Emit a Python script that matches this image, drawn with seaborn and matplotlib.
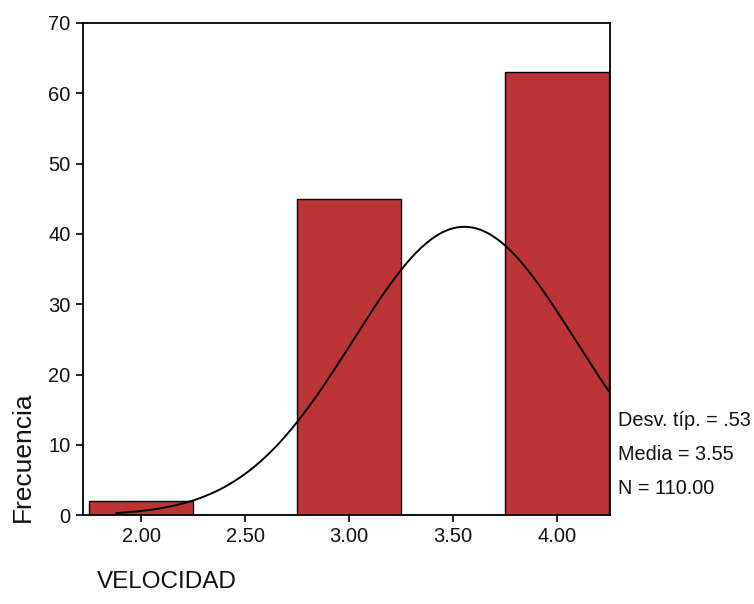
import numpy as np
import pandas as pd
import seaborn as sns
import matplotlib.pyplot as plt

sns.set_style("white")
plt.rcParams['font.family'] = ['Liberation Sans', 'DejaVu Sans']
plt.rcParams['text.color'] = '#111111'
plt.rcParams['xtick.color'] = '#111111'
plt.rcParams['ytick.color'] = '#111111'

# data
velocidad = [2.0, 3.0, 4.0]
frecuencia = [2, 45, 63]
desv_tip = 0.535
media = 3.5545
n_total = 110
bin_width = 0.5

df = pd.DataFrame({"VELOCIDAD": velocidad, "Frecuencia": frecuencia})

fig = plt.figure(figsize=(7.54, 6.04), dpi=100)
ax = fig.add_axes([0.110, 0.147, 0.699, 0.815])

sns.histplot(data=df, x="VELOCIDAD", weights="Frecuencia", binwidth=bin_width,
             binrange=(1.75, 4.25), color="#BC3434", alpha=1.0,
             edgecolor="black", linewidth=1.0, ax=ax)

# normal curve fitted to the data
xs = np.linspace(1.88, 4.25, 200)
ys = n_total * bin_width / (desv_tip * np.sqrt(2 * np.pi)) * np.exp(-0.5 * ((xs - media) / desv_tip) ** 2)
sns.lineplot(x=xs, y=ys, color="black", linewidth=1.4, ax=ax)

ax.set_xlim(1.72, 4.255)
ax.set_ylim(0, 70)
ax.set_xticks([2.0, 2.5, 3.0, 3.5, 4.0])
ax.set_xticklabels(["2.00", "2.50", "3.00", "3.50", "4.00"])
ax.set_yticks(range(0, 71, 10))
ax.tick_params(axis="both", direction="out", length=5, width=1.2, color="black",
               labelsize=14.5, left=True, bottom=True)
ax.tick_params(axis="y", pad=4)
for s in ax.spines.values():
    s.set_color("black")
    s.set_linewidth(1.3)
ax.set_xlabel("")
ax.set_ylabel("")

fig.text(0.030, 1 - 457 / 604, "Frecuencia", fontsize=19, rotation=90, ha="center", va="center")
fig.text(0.128, 0.018, "VELOCIDAD", fontsize=17.5, ha="left", va="bottom")
fig.text(0.819, 1 - 420 / 604, "Desv. típ. = .53", fontsize=14.3, ha="left", va="center")
fig.text(0.819, 1 - 455 / 604, "Media = 3.55", fontsize=14.3, ha="left", va="center")
fig.text(0.819, 1 - 488 / 604, "N = 110.00", fontsize=14.3, ha="left", va="center")

fig.savefig("out.png", dpi=100)
